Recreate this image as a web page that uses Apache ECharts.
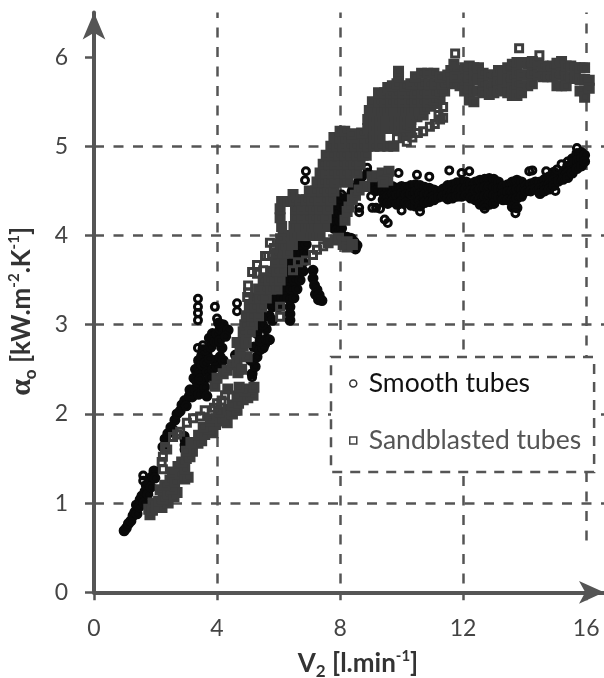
<!DOCTYPE html>
<html><head><meta charset="utf-8">
<script src="https://cdn.jsdelivr.net/npm/echarts@6/dist/echarts.min.js"></script>
<style>html,body{margin:0;padding:0;background:#fff}#c{width:604px;height:678px}</style></head>
<body><div id="c"></div>
<script>
const xTicks = [0, 4, 8, 12, 16];
const yTicks = [0, 1, 2, 3, 4, 5, 6];
const seriesNames = ['Smooth tubes', 'Sandblasted tubes'];
const xTitle = '{b|V}{sub|2}{b| [l.min}{sup|-1}{b|]}';
const yTitle = '{a|α}{sub|o}{b| [kW.m}{sup|-2}{b|.K}{sup|-1}{b|]}';
// where each vertical grid line stops at the bottom
const gridBottoms = [[4, 0.1], [8, 0.1], [12, 0.1], [16, 0.58]];

// crowded stretches, where the open markers overlap into a solid mass
const smoothStart = [[.98,.69],[1.05,.72],[1.12,.77],[1.2,.8],[1.27,.86],[1.33,.9],[1.4,.88],[1.38,.98],[1.47,.96],[1.5,1.04],[1.56,1.08],[1.62,1.0],[1.66,1.13],[1.7,1.2],[1.75,1.1],[1.8,1.27],[1.85,1.18],[1.9,1.3],[1.95,1.36],[1.98,1.28],[2.96,1.71],[2.96,1.65],[2.96,1.6],[2.93,1.75]];
const smoothRise = [[2.24,1.63],[2.31,1.72],[2.4,1.78],[2.5,1.85],[2.57,1.82],[2.63,1.93],[2.7,2.0],[2.8,2.03],[2.86,2.1],[2.95,2.15],[3.0,2.09],[3.1,2.2],[3.19,2.19],[3.12,2.27],[3.25,2.4],[3.3,2.28],[3.3,2.5],[3.4,2.22],[3.35,2.36],[3.4,2.6],[3.45,2.47],[3.5,2.65],[3.55,2.36],[3.6,2.3],[3.67,2.2],[3.45,2.39],[3.52,2.55],[3.61,2.57],[3.68,2.47],[3.77,2.41],[3.85,2.5],[4,2.53],[3.92,2.6],[4.1,2.64],[3.67,2.68],[3.75,2.62],[3.75,2.85],[3.54,2.72],[3.62,2.72],[3.8,2.75],[3.85,2.9],[3.93,2.81],[4.16,2.74],[4.2,2.6],[4.0,2.9],[4.08,2.82],[4.2,3.0],[4.1,2.95],[4.36,2.94],[4.28,2.87],[4.05,3.02]];
const smoothMid = [[4.6,2.66],[4.8,2.5],[5.14,2.45],[5.24,2.53],[5.1,2.6],[5.3,2.64],[5.2,2.75],[5.4,2.72],[5.5,2.74],[5.55,2.78],[5.3,2.9],[5.4,2.82],[5.6,2.84],[5.6,2.95],[5.68,2.83],[5.4,3.05],[5.35,2.97],[5.48,3.0],[5.55,3.1],[5.63,3.24],[5.7,3.1],[5.8,3.05],[5.8,3.2],[6.0,3.2],[5.9,3.3],[6.1,3.3],[6.3,3.3],[6.5,3.3],[6.0,3.4],[6.2,3.4],[6.4,3.4],[6.6,3.4],[6.1,3.5],[6.3,3.5],[6.5,3.5],[6.7,3.5],[6.2,3.6],[6.4,3.6],[6.6,3.6],[6.8,3.6],[6.2,3.7],[6.4,3.7],[6.6,3.7],[6.8,3.7],[6.25,3.8],[6.45,3.8],[6.65,3.8],[6.85,3.8],[6.3,3.9],[6.5,3.9],[6.7,3.9],[6.9,3.9],[6.6,4.0],[6.85,4.0],[6.37,3.05],[6.37,3.12],[6.37,3.2],[7.12,3.61],[7.12,3.52],[7.17,3.44],[7.25,3.39],[7.2,3.34],[7.32,3.33],[7.41,3.27],[7.3,3.28]];
const smoothBridge = [[7.67,4.1],[7.8,4.08],[7.9,4.06],[8.05,4.08],[7.7,4.17],[7.85,4.18],[8.0,4.16],[7.7,4.26],[7.85,4.26],[8.0,4.25],[7.72,4.34],[7.88,4.35],[8.05,4.33],[7.84,4.42],[8.0,4.42],[8.2,4.42],[8.39,4.49],[8.42,4.53],[8.6,4.6],[8.7,4.66],[8.9,4.7],[9.1,4.6],[9.3,4.58],[8.95,4.55],[9.15,4.5],[8.23,3.98],[8.35,3.97],[8.45,3.93],[8.55,3.89],[8.5,3.85],[8.05,4.0]];
const smoothPlateau = [[9.4,4.55],[9.4,4.48],[9.4,4.4],[9.55,4.52],[9.55,4.44],[9.55,4.36],[9.7,4.55],[9.7,4.47],[9.7,4.38],[9.85,4.53],[9.85,4.45],[9.85,4.35],[10,4.55],[10,4.47],[10,4.38],[10.15,4.54],[10.15,4.46],[10.15,4.37],[10.3,4.56],[10.3,4.47],[10.3,4.34],[10.45,4.57],[10.45,4.49],[10.45,4.33],[10.45,4.4],[10.6,4.56],[10.6,4.47],[10.6,4.39],[10.6,4.33],[10.75,4.54],[10.75,4.46],[10.75,4.37],[10.9,4.53],[10.9,4.45],[10.9,4.38],[11.05,4.51],[11.05,4.44],[11.05,4.4],[11.2,4.49],[11.2,4.43],[11.35,4.52],[11.35,4.44],[11.5,4.56],[11.5,4.47],[11.5,4.41],[11.65,4.57],[11.65,4.49],[11.65,4.42],[11.8,4.59],[11.8,4.51],[11.8,4.44],[11.95,4.6],[11.95,4.52],[11.95,4.44],[12.1,4.6],[12.1,4.53],[12.1,4.45],[12.25,4.58],[12.25,4.5],[12.25,4.42],[12.4,4.6],[12.4,4.51],[12.4,4.4],[12.55,4.62],[12.55,4.52],[12.55,4.42],[12.55,4.35],[12.7,4.63],[12.7,4.54],[12.7,4.44],[12.7,4.34],[12.85,4.64],[12.85,4.55],[12.85,4.45],[12.85,4.35],[13,4.63],[13,4.54],[13,4.45],[13,4.36],[13.15,4.6],[13.15,4.52],[13.15,4.43],[13.3,4.55],[13.3,4.47],[13.3,4.4],[13.45,4.57],[13.45,4.49],[13.45,4.4],[13.6,4.6],[13.6,4.5],[13.6,4.4],[13.6,4.32],[13.75,4.62],[13.75,4.52],[13.75,4.42],[13.75,4.31],[13.9,4.6],[13.9,4.52],[13.9,4.44],[14.05,4.56],[14.05,4.5],[14.2,4.58],[14.2,4.5],[14.35,4.6],[14.35,4.52],[14.5,4.6],[14.5,4.53],[14.5,4.47],[14.65,4.63],[14.65,4.55],[14.65,4.5],[14.8,4.66],[14.8,4.58],[14.8,4.52],[14.95,4.71],[14.95,4.62],[14.95,4.56],[15.1,4.68],[15.1,4.61],[15.25,4.7],[15.25,4.63],[15.4,4.78],[15.4,4.7],[15.4,4.65],[15.55,4.86],[15.55,4.78],[15.55,4.7],[15.7,4.92],[15.7,4.84],[15.7,4.75],[15.85,4.93],[15.85,4.86],[15.85,4.78],[15.95,4.9],[15.95,4.83]];
// single open markers that stand clear of the mass
const smoothOutliers = [[1.6,1.31],[1.6,1.25],[3.38,3.29],[3.38,3.2],[3.38,3.13],[3.38,3.05],[3.93,3.2],[4.0,3.07],[4.65,3.24],[4.65,3.15],[3.38,2.74],[3.54,2.77],[5.72,2.83],[5.14,2.41],[6.89,4.72],[6.86,4.62],[8.88,4.76],[9.01,4.44],[8.62,4.31],[8.62,4.26],[9.17,4.31],[9.05,4.31],[10.5,4.68],[10.9,4.66],[9.9,4.7],[8.05,4.46],[11.55,4.73],[11.95,4.7],[12.2,4.72],[14.15,4.72],[14.25,4.73],[14.7,4.72],[15.05,4.74],[15.2,4.8],[15.4,4.83],[15.7,4.98],[9.45,4.18],[9.55,4.14],[9.3,4.3],[10.0,4.28],[10.6,4.27],[12.7,4.3],[13.7,4.25],[15,4.5]];

const sandLow = [[1.82,.87],[1.78,.93],[1.92,1],[1.9,.92],[2.02,.95],[2.21,.95],[2.1,1.02],[2.41,1],[2.25,1.05],[2.15,1.15],[2.4,1.1],[2.6,1.07],[2.7,1.12],[2.55,1.16],[2.3,1.2],[2.47,1.26],[2.62,1.24],[2.73,1.41],[2.55,1.35],[2.8,1.33],[2.95,1.27],[3.06,1.29],[2.95,1.38],[2.85,1.46],[3.0,1.5],[3.12,1.52],[3.2,1.58],[3.0,1.58],[3.38,1.67],[3.25,1.68],[3.15,1.68],[3.5,1.7],[3.4,1.76],[3.6,1.77],[3.87,1.79],[3.75,1.83],[3.55,1.85],[3.95,1.88],[3.8,1.92],[4.1,1.92],[4.33,1.9],[4.2,1.97],[4.05,2.02],[4.35,2.05],[4.5,2.0],[4.65,2.04],[4.5,2.1],[4.7,2.12],[4.85,2.16],[4.65,2.2],[5.0,2.18],[5.17,2.21],[5.05,2.28],[4.9,2.26],[4.72,2.3],[5.2,2.3]];
const sandBand = [[4.35,2.28],[3.93,2.31],[4,2.4],[4.2,2.45],[4.33,2.49],[4.5,2.55],[4.65,2.6],[4.68,2.46],[4.8,2.5],[4.98,2.64],[4.75,2.7],[4.85,2.76],[4.65,2.8],[4.85,2.92],[4.95,2.8],[5.01,3.05],[4.9,3.0],[5.15,3.0],[5.08,2.92],[4.95,3.1],[5.15,3.1],[5.35,3.1],[5.05,3.2],[5.25,3.2],[5.45,3.2],[5.2,3.3],[5.4,3.3],[5.6,3.3],[5.35,3.4],[5.55,3.4],[5.75,3.4],[5.95,3.4],[5.5,3.5],[5.7,3.5],[5.9,3.5],[6.05,3.5],[5.75,3.6],[5.95,3.6],[6.1,3.6],[5.9,3.7],[6.1,3.7],[5.95,3.8],[6.15,3.8],[6.3,3.8],[6.05,3.9],[6.25,3.9],[6.45,3.9]];
const sandBlock = [[6.15,4.0],[6.35,4.0],[6.55,4.0],[6.75,4.0],[6.95,4.0],[7.15,4.0],[7.35,4.0],[6.1,4.1],[6.5,4.1],[6.7,4.1],[6.9,4.1],[7.1,4.1],[7.3,4.1],[7.5,4.1],[6.05,4.2],[6.55,4.2],[6.75,4.2],[6.95,4.2],[7.15,4.2],[7.35,4.2],[7.55,4.2],[6.05,4.3],[6.55,4.3],[6.75,4.3],[6.95,4.3],[7.15,4.3],[7.35,4.3],[7.6,4.3],[6.1,4.38],[6.3,4.38],[6.5,4.4],[6.7,4.4],[6.9,4.4],[7.1,4.4],[7.3,4.4],[7.5,4.4],[7.7,4.4],[6.47,4.46],[7.0,4.5],[7.2,4.5],[7.4,4.5],[7.6,4.5],[7.8,4.5],[7.25,4.6],[7.45,4.6],[7.65,4.6],[7.85,4.6],[8.05,4.6],[8.25,4.6],[7.35,4.7],[7.55,4.7],[7.75,4.7],[7.95,4.7],[8.15,4.7],[8.35,4.7],[8.55,4.7],[7.45,4.8],[7.65,4.8],[7.85,4.8],[8.05,4.8],[8.25,4.8],[8.45,4.8],[8.65,4.8],[7.55,4.9],[7.75,4.9],[7.95,4.9],[8.15,4.9],[8.35,4.9],[8.55,4.9],[8.75,4.9],[8.85,4.9],[7.7,5.0],[7.9,5.0],[8.1,5.0],[8.3,5.0],[8.5,5.0],[8.7,5.0],[8.9,5.0],[7.8,5.1],[8.0,5.1],[8.2,5.1],[8.4,5.1],[8.6,5.1],[8.8,5.1],[9.0,5.1],[8.0,5.17],[8.15,5.17],[8.4,5.14],[8.7,5.15],[8.9,5.2]];
const sandUpper = [[9.1,5.0],[9.3,5.0],[9.55,5.0],[9.75,5.0],[9.1,5.1],[9.3,5.1],[10.05,5.12],[10.2,5.15],[9.1,5.2],[9.3,5.2],[9.5,5.2],[9.7,5.2],[9.9,5.2],[10.1,5.22],[10.3,5.24],[8.9,5.3],[9.1,5.3],[9.3,5.3],[9.5,5.3],[9.7,5.3],[9.9,5.3],[10.1,5.3],[10.3,5.3],[10.5,5.33],[10.7,5.35],[8.95,5.4],[9.15,5.4],[9.35,5.4],[9.55,5.4],[9.75,5.4],[9.95,5.4],[10.15,5.4],[10.35,5.4],[10.55,5.4],[10.75,5.42],[10.95,5.45],[11.15,5.48],[9.05,5.5],[9.25,5.5],[9.45,5.5],[9.65,5.5],[9.85,5.5],[10.05,5.5],[10.25,5.5],[10.45,5.5],[10.65,5.5],[10.85,5.5],[11.05,5.52],[11.25,5.55],[9.25,5.6],[9.45,5.6],[9.65,5.6],[9.85,5.6],[10.05,5.6],[10.25,5.6],[10.45,5.6],[10.65,5.6],[10.85,5.6],[11.05,5.6],[11.25,5.62],[11.4,5.62],[9.55,5.66],[9.7,5.68],[9.85,5.7],[10.1,5.68],[10.3,5.7],[10.5,5.7],[10.7,5.7],[10.9,5.7],[11.1,5.7],[11.3,5.7],[11.45,5.72],[9.9,5.78],[9.9,5.84],[10.45,5.78],[10.65,5.82],[10.85,5.82],[11.05,5.82],[11.25,5.78],[11.6,5.85],[11.5,5.8],[11.7,5.92]];
const sandBridge = [[8.16,4.17],[8.23,4.27],[8.29,4.32],[8.4,4.4],[8.5,4.45],[8.62,4.51],[8.8,4.55],[9.04,4.66],[9.2,4.67],[9.37,4.7],[9.59,4.72],[9.55,4.62],[9.4,4.6],[7.61,3.92],[7.84,3.95],[7.95,3.97],[8.1,3.9],[8.23,3.93],[8.23,3.87],[8.4,3.9]];
const sandPlateau = [[11.65,5.72],[11.75,5.85],[11.75,5.7],[11.9,5.8],[11.9,5.68],[12.05,5.88],[12.05,5.75],[12.05,5.62],[12.2,5.9],[12.2,5.78],[12.2,5.65],[12.2,5.52],[12.35,5.88],[12.35,5.76],[12.35,5.62],[12.35,5.5],[12.5,5.88],[12.5,5.75],[12.5,5.62],[12.65,5.82],[12.65,5.7],[12.65,5.6],[12.85,5.8],[12.85,5.68],[12.85,5.58],[13.0,5.8],[13.0,5.7],[13.0,5.6],[13.15,5.85],[13.15,5.72],[13.15,5.62],[13.3,5.85],[13.3,5.75],[13.3,5.63],[13.45,5.88],[13.45,5.75],[13.45,5.6],[13.6,5.92],[13.6,5.78],[13.6,5.65],[13.6,5.57],[13.75,5.94],[13.75,5.82],[13.75,5.7],[13.75,5.57],[13.9,5.94],[13.9,5.8],[13.9,5.68],[13.9,5.6],[14.1,5.92],[14.1,5.8],[14.1,5.68],[14.25,5.95],[14.25,5.82],[14.25,5.7],[14.45,5.92],[14.45,5.8],[14.6,5.9],[14.6,5.78],[14.75,5.88],[14.75,5.78],[14.9,5.9],[14.9,5.78],[15.05,5.93],[15.05,5.8],[15.05,5.68],[15.2,5.95],[15.2,5.82],[15.2,5.68],[15.35,5.9],[15.35,5.78],[15.35,5.68],[15.5,5.9],[15.5,5.78],[15.65,5.88],[15.65,5.76],[15.8,5.88],[15.8,5.75],[15.8,5.62],[15.95,5.88],[15.95,5.75],[15.95,5.62],[15.95,5.55],[16.1,5.74],[16.1,5.65],[11.74,5.78]];
// chains of single open squares
const sandChains = [[2.24,1.38],[2.2,1.46],[2.24,1.52],[2.31,1.63],[2.38,1.6],[2.57,1.74],[2.7,1.77],[2.8,1.8],[3.02,1.9],[3.22,1.95],[3.45,1.97],[3.6,2.04],[3.77,1.95],[3.9,2.07],[4.0,2.12],[4.15,2.15],[4.26,2.21],[5.01,3.44],[5.01,3.36],[4.98,3.31],[5.14,3.59],[5.3,3.67],[5.3,3.57],[5.5,3.61],[5.56,3.77],[5.66,3.77],[5.72,3.92],[5.85,3.86],[6.05,3.97],[6.05,3.09],[6.05,3.2],[6.47,3.61],[6.63,3.7],[6.89,3.72],[7.12,3.78],[7.25,3.84],[7.45,3.88],[9.85,5.09],[10.17,5.05],[10.35,5.1],[10.53,5.15],[10.7,5.17],[10.92,5.22],[11.08,5.25],[11.25,5.3],[11.35,5.32],[11.35,5.44],[11.2,5.35],[13.82,6.1],[14.48,6.02],[11.74,6.04]];

const smoothDense = [].concat(smoothStart, smoothRise, smoothMid, smoothBridge, smoothPlateau);
const sandDense = [].concat(sandLow, sandBand, sandBlock, sandUpper, sandBridge, sandPlateau);

const gridColor = '#555555';
const smoothColor = '#0a0a0a';
const sandColor = '#3d3d3d';
const solid = (p, c) => ({value: p, symbolSize: 8, itemStyle: {color: c}});
const chart = echarts.init(document.getElementById('c'), null, {renderer: 'canvas'});
const titleRich = {
  b: {fontSize: 26, fontWeight: 'bold', color: '#333', fontFamily: 'Lato', lineHeight: 36},
  a: {fontSize: 30, fontWeight: 'bold', color: '#333', fontFamily: 'Liberation Serif', lineHeight: 36},
  sub: {fontSize: 17, fontWeight: 'bold', color: '#333', fontFamily: 'Lato', verticalAlign: 'bottom', lineHeight: 36, padding: [0, 0, 1, 0]},
  sup: {fontSize: 15, fontWeight: 'bold', color: '#333', fontFamily: 'Lato', verticalAlign: 'top', lineHeight: 36, padding: [3, 0, 0, 0]}
};
chart.setOption({
  animation: false,
  backgroundColor: '#fff',
  textStyle: {fontFamily: 'Lato'},
  grid: {left: 94, top: 12.5, width: 510, height: 579.8, containLabel: false, outerBoundsMode: 'none'},
  xAxis: {
    type: 'value', min: 0, max: 16.58, interval: 4,
    name: xTitle, nameLocation: 'middle', nameGap: 51,
    nameTextStyle: {padding: [0, 0, 0, 18], rich: titleRich},
    axisLine: {show: true, onZero: false, symbol: ['none', 'arrow'], symbolSize: [17, 25],
      lineStyle: {color: gridColor, width: 4}},
    axisTick: {show: true, length: 8, customValues: xTicks, lineStyle: {color: gridColor, width: 2.5}},
    axisLabel: {customValues: xTicks, fontSize: 23, color: '#444', margin: 25, fontFamily: 'Lato'},
    splitLine: {show: false}
  },
  yAxis: {
    type: 'value', min: 0, max: 6.5, interval: 1,
    name: yTitle, nameLocation: 'middle', nameGap: 54,
    nameTextStyle: {padding: [0, 18, 0, 0], rich: titleRich},
    axisLine: {show: true, onZero: false, symbol: ['none', 'arrow'], symbolSize: [17, 27],
      lineStyle: {color: gridColor, width: 4}},
    axisTick: {show: true, length: 9, customValues: yTicks, lineStyle: {color: gridColor, width: 2.5}},
    axisLabel: {customValues: yTicks, fontSize: 23, color: '#444', margin: 26, fontFamily: 'Lato'},
    splitLine: {show: true, showMinLine: false, showMaxLine: false,
      lineStyle: {color: gridColor, width: 2.5, type: [10, 9.5]}}
  },
  legend: {
    orient: 'vertical', left: 331, top: 357,
    padding: [13, 13, 18, 18], itemGap: 30, itemWidth: 7, itemHeight: 7,
    backgroundColor: '#fff', borderColor: gridColor, borderWidth: 2.5, borderType: [10, 8],
    textStyle: {fontSize: 26.5, fontFamily: 'Lato', padding: [0, 0, 0, 7]},
    data: [
      {name: seriesNames[0], icon: 'circle', textStyle: {color: '#111'},
        itemStyle: {color: '#fff', borderColor: '#333', borderWidth: 1.5}},
      {name: seriesNames[1], icon: 'rect', textStyle: {color: '#555'},
        itemStyle: {color: '#fff', borderColor: '#444', borderWidth: 1.5}}
    ]
  },
  series: [
    {name: seriesNames[0], type: 'scatter', z: 2, symbol: 'circle', symbolSize: 7,
      data: smoothDense.map(p => solid(p, smoothColor)).concat(smoothOutliers),
      itemStyle: {color: 'rgba(255,255,255,0)', borderColor: smoothColor, borderWidth: 3, opacity: 1},
      markLine: {silent: true, z: 1, symbol: 'none', animation: false, label: {show: false},
        lineStyle: {color: gridColor, width: 2.5, type: [10, 9.5]},
        data: gridBottoms.map(g => [{coord: [g[0], g[1]]}, {coord: [g[0], 6.5]}])}},
    {name: seriesNames[1], type: 'scatter', z: 3, symbol: 'rect', symbolSize: 7,
      data: sandDense.map(p => solid(p, sandColor)).concat(sandChains),
      itemStyle: {color: 'rgba(255,255,255,0)', borderColor: sandColor, borderWidth: 3, opacity: 1}}
  ]
});
</script></body></html>
